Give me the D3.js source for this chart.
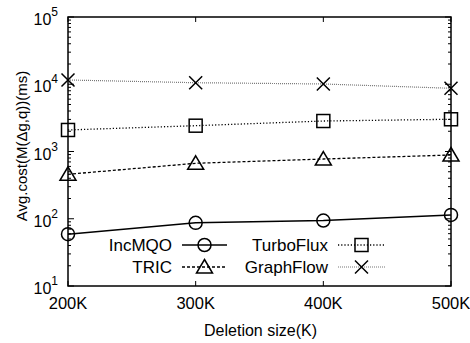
<!DOCTYPE html>
<html>
<head>
<meta charset="utf-8">
<script src="https://cdn.jsdelivr.net/npm/d3@7"></script>
<style>
  body { margin: 0; background: #fff; }
  svg { display: block; font-family: Arial, "Liberation Sans", sans-serif; }
</style>
</head>
<body>
<svg id="chart" width="470" height="343"></svg>
<script>
const categories = ["200K", "300K", "400K", "500K"];
const xValues = [200, 300, 400, 500];
const seriesNames = ["IncMQO", "TRIC", "TurboFlux", "GraphFlow"];
const incMQO = [59, 87, 94, 114];
const tric = [458, 668, 773, 887];
const turboFlux = [2090, 2420, 2840, 3015];
const graphFlow = [11570, 10540, 10090, 8710];
const yTickValues = [10, 100, 1000, 10000, 100000];
const yTickExponents = ["1", "2", "3", "4", "5"];

const series = [
  { name: "IncMQO", values: incMQO, marker: "circle", dash: null, color: "#000", width: 1.5 },
  { name: "TRIC", values: tric, marker: "triangle", dash: "3,2", color: "#000", width: 1.3 },
  { name: "TurboFlux", values: turboFlux, marker: "square", dash: "1.2,2", color: "#000", width: 1.3 },
  { name: "GraphFlow", values: graphFlow, marker: "x", dash: "1,1", color: "#777", width: 1.2 }
];

const svg = d3.select("#chart");
const m = { left: 68, right: 451, top: 17, bottom: 286 };
const x = d3.scaleLinear().domain([200, 500]).range([m.left, m.right]);
const y = d3.scaleLog().domain([10, 100000]).range([m.bottom, m.top]);

// frame
svg.append("rect").attr("x", m.left).attr("y", m.top)
  .attr("width", m.right - m.left).attr("height", m.bottom - m.top)
  .attr("fill", "none").attr("stroke", "#000").attr("stroke-width", 1.5);

// minor y ticks
const minor = [];
for (let e = 1; e < 5; e++) for (let k = 2; k <= 9; k++) minor.push(k * Math.pow(10, e));
[m.left, m.right].forEach((xx, i) => {
  const dir = i === 0 ? 1 : -1;
  svg.append("g").selectAll("line").data(minor).join("line")
    .attr("x1", xx).attr("x2", xx + dir * 3)
    .attr("y1", d => y(d)).attr("y2", d => y(d))
    .attr("stroke", "#000").attr("stroke-width", 1);
  svg.append("g").selectAll("line").data(yTickValues).join("line")
    .attr("x1", xx).attr("x2", xx + dir * 6)
    .attr("y1", d => y(d)).attr("y2", d => y(d))
    .attr("stroke", "#000").attr("stroke-width", 1);
});
// x ticks
[m.bottom, m.top].forEach((yy, i) => {
  const dir = i === 0 ? -1 : 1;
  svg.append("g").selectAll("line").data(xValues).join("line")
    .attr("x1", d => x(d)).attr("x2", d => x(d))
    .attr("y1", yy).attr("y2", yy + dir * 5)
    .attr("stroke", "#000").attr("stroke-width", 1);
});

// y tick labels
const yl = svg.append("g");
yTickValues.forEach((v, i) => {
  const t = yl.append("text").attr("x", 58).attr("y", y(v) + 8)
    .attr("text-anchor", "end").attr("font-size", 16).attr("fill", "#000");
  t.append("tspan").text("10");
  t.append("tspan").attr("dy", -9).attr("font-size", 12).text(yTickExponents[i]);
});

// x tick labels
svg.append("g").selectAll("text").data(xValues).join("text")
  .attr("x", d => x(d)).attr("y", 309).attr("text-anchor", "middle")
  .attr("font-size", 16.5).text((d, i) => categories[i]);

// axis titles
svg.append("text").attr("x", (m.left + m.right) / 2 + 1).attr("y", 336)
  .attr("text-anchor", "middle").attr("font-size", 16).text("Deletion size(K)");
svg.append("text").attr("transform", `translate(27,146) rotate(-90)`)
  .attr("text-anchor", "middle").attr("font-size", 15).text("Avg.cost(M(\u0394g,q))(ms)");

function drawMarker(g, type, cx, cy, color) {
  if (type === "circle") {
    g.append("circle").attr("cx", cx).attr("cy", cy).attr("r", 6.5)
      .attr("fill", "none").attr("stroke", color).attr("stroke-width", 1.5);
  } else if (type === "square") {
    g.append("rect").attr("x", cx - 6.5).attr("y", cy - 6.5).attr("width", 13).attr("height", 13)
      .attr("fill", "none").attr("stroke", "#000").attr("stroke-width", 1.5);
  } else if (type === "triangle") {
    g.append("path").attr("d", `M${cx},${cy - 7.5}L${cx + 8},${cy + 6}L${cx - 8},${cy + 6}Z`)
      .attr("fill", "none").attr("stroke", "#000").attr("stroke-width", 1.5);
  } else {
    g.append("path").attr("d", `M${cx - 6.5},${cy - 6.5}L${cx + 6.5},${cy + 6.5}M${cx - 6.5},${cy + 6.5}L${cx + 6.5},${cy - 6.5}`)
      .attr("fill", "none").attr("stroke", "#000").attr("stroke-width", 1.5);
  }
}

const line = d3.line().x((d, i) => x(xValues[i])).y(d => y(d));
series.forEach(s => {
  const g = svg.append("g");
  g.append("path").attr("d", line(s.values)).attr("fill", "none")
    .attr("stroke", s.color).attr("stroke-width", s.width)
    .attr("stroke-dasharray", s.dash);
  s.values.forEach((v, i) => drawMarker(g, s.marker, x(xValues[i]), y(v), s.color));
});

// legend
const legendPos = [
  { tx: 172, lx1: 182, lx2: 227, yy: 245 },
  { tx: 172, lx1: 182, lx2: 227, yy: 267 },
  { tx: 328, lx1: 338, lx2: 385, yy: 245 },
  { tx: 328, lx1: 338, lx2: 385, yy: 267 }
];
series.forEach((s, i) => {
  const p = legendPos[i];
  const g = svg.append("g");
  g.append("text").attr("x", p.tx).attr("y", p.yy + 6).attr("text-anchor", "end")
    .attr("font-size", 17).text(seriesNames[i]);
  g.append("line").attr("x1", p.lx1).attr("x2", p.lx2).attr("y1", p.yy).attr("y2", p.yy)
    .attr("stroke", s.color).attr("stroke-width", s.width).attr("stroke-dasharray", s.dash);
  drawMarker(g, s.marker, (p.lx1 + p.lx2) / 2, p.yy, s.color);
});
</script>
</body>
</html>
